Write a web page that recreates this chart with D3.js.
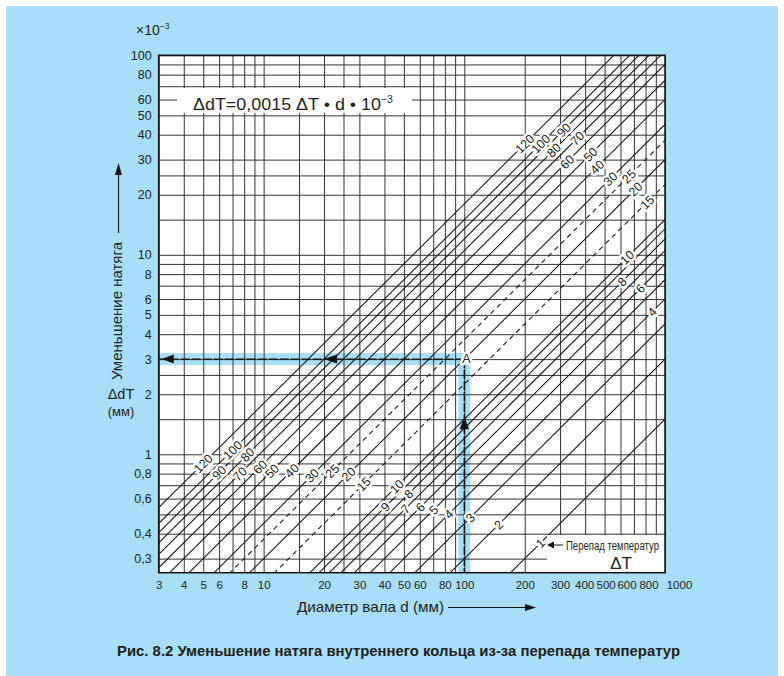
<!DOCTYPE html>
<html>
<head>
<meta charset="utf-8">
<script src="https://cdnjs.cloudflare.com/ajax/libs/d3/7.8.5/d3.min.js"></script>
<style>
    body { margin: 0; background: #fff; }
    text { font-family: "Liberation Sans", Arial, sans-serif; fill: #231f20; }
    .halo { stroke: #fff; stroke-width: 5px; stroke-linejoin: round; paint-order: stroke; }
</style>
</head>
<body>
<div id="chart"></div>
<script>
"use strict";

// grid lines of the log-log paper
const xGridValues = [3, 4, 5, 6, 7, 8, 9, 10, 15, 20, 25, 30, 40, 50, 60, 70, 80, 90,
    100, 200, 300, 400, 500, 600, 700, 800, 900, 1000];
const yGridValues = [0.3, 0.4, 0.5, 0.6, 0.7, 0.8, 0.9, 1, 1.5, 2, 2.5, 3, 4, 5, 6, 7, 8, 9,
    10, 15, 20, 25, 30, 40, 50, 60, 70, 80, 90, 100];

// tick labels
const xTickLabels = [3, 4, 5, 6, 8, 10, 20, 30, 40, 50, 60, 80, 100, 200, 300, 400, 500, 600, 800, 1000];
const yTickLabels = [0.3, 0.4, 0.6, 0.8, 1, 2, 3, 4, 5, 6, 8, 10, 20, 30, 40, 50, 60, 80, 100];

// temperature differences (one line each), dashed ones
const deltaT = [1, 2, 3, 4, 5, 6, 7, 8, 9, 10, 15, 20, 25, 30, 40, 50, 60, 70, 80, 90, 100, 120];
const dashedDeltaT = [15, 25];

// dT = 0.0015 * deltaT * d  (x10^-3 mm)
const coefficient = 0.0015;

// line labels: [deltaT, diameter where the label sits]
const lowerLabels = [[120, 5.0], [100, 7.0], [90, 6.0], [80, 8.3], [70, 7.6], [60, 9.6],
    [50, 11], [40, 13.8], [30, 17.4], [25, 22], [20, 26.5], [15, 31.5], [10, 46], [9, 40.4],
    [8, 52.8], [7, 50.8], [6, 60.4], [5, 70.3], [4, 83.6], [3, 107], [2, 148], [1, 239]];
const upperLabels = [[120, 200], [100, 240], [90, 313], [80, 279], [70, 365], [60, 325],
    [50, 425], [40, 459], [30, 534], [25, 660], [20, 712], [15, 815], [10, 647], [8, 611],
    [6, 754], [4, 862]];

// worked example: point A
const exampleD = 100;
const exampleDT = 3;
const midArrowD = 20;
const upArrowDT = 1.55;

// crowded x labels at the right end are pushed apart a little (px)
const xLabelNudge = { 400: -1, 500: 1, 600: 6, 800: 3, 1000: 14 };

const width = 784, height = 676;

const svg = d3.select("#chart").append("svg")
    .attr("width", width)
    .attr("height", height);

// scales
const x = d3.scaleLog().domain([3, 1000]).range([158.7, 665]);
const y = d3.scaleLog().domain([0.255, 100]).range([572.7, 55.3]);
const x0 = x.range()[0], x1 = x.range()[1];
const y0 = y.range()[0], y1 = y.range()[1];

const fmt = v => String(v).replace(".", ",");

// blue page background
svg.append("rect")
    .attr("x", 6).attr("y", 6)
    .attr("width", 772).attr("height", 670)
    .attr("fill", "#a8def8");

// white plot area
svg.append("rect")
    .attr("x", x0).attr("y", y1)
    .attr("width", x1 - x0).attr("height", y0 - y1)
    .attr("fill", "#fff");

// highlighted path of the example
const band = 12;
svg.append("rect")
    .attr("x", x0).attr("y", y(exampleDT) - band / 2)
    .attr("width", x(exampleD) + band / 2 - x0).attr("height", band)
    .attr("fill", "#a8def8");
svg.append("rect")
    .attr("x", x(exampleD) - band / 2).attr("y", y(exampleDT) - band / 2)
    .attr("width", band).attr("height", y0 - y(exampleDT) + band / 2)
    .attr("fill", "#a8def8");

// grid
const gridX = svg.append("g")
    .attr("transform", "translate(0," + y0 + ")")
    .call(d3.axisBottom(x).tickValues(xGridValues).tickSize(-(y0 - y1)).tickFormat(""));
gridX.select(".domain").remove();
gridX.selectAll("line").attr("stroke", "#333").attr("stroke-width", 1);

const gridY = svg.append("g")
    .attr("transform", "translate(" + x0 + ",0)")
    .call(d3.axisLeft(y).tickValues(yGridValues).tickSize(-(x1 - x0)).tickFormat(""));
gridY.select(".domain").remove();
gridY.selectAll("line").attr("stroke", "#333").attr("stroke-width", 1);

// clip for the diagonal lines
svg.append("defs").append("clipPath")
    .attr("id", "plotClip")
    .append("rect")
    .attr("x", x0).attr("y", y1)
    .attr("width", x1 - x0).attr("height", y0 - y1);

const line = d3.line()
    .x(d => x(d[0]))
    .y(d => y(d[1]));

svg.append("g")
    .attr("clip-path", "url(#plotClip)")
    .selectAll("path")
    .data(deltaT)
    .enter()
    .append("path")
    .attr("d", t => line([3, 1000].map(d => [d, coefficient * t * d])))
    .attr("fill", "none")
    .attr("stroke", "#1a1a1a")
    .attr("stroke-width", 1.1)
    .attr("stroke-dasharray", t => dashedDeltaT.includes(t) ? "5,4" : null);

// example arrows
const arrows = svg.append("g");
arrows.append("line")
    .attr("x1", x0).attr("x2", x(exampleD))
    .attr("y1", y(exampleDT)).attr("y2", y(exampleDT))
    .attr("stroke", "#111").attr("stroke-width", 1.4)
    .attr("stroke-dasharray", "9,2");
arrows.append("line")
    .attr("x1", x(exampleD)).attr("x2", x(exampleD))
    .attr("y1", y(exampleDT)).attr("y2", y0)
    .attr("stroke", "#111").attr("stroke-width", 1.4)
    .attr("stroke-dasharray", "9,2");

// triangle head, tip at (tx, ty), pointing in dir ("left", "right", "up")
function arrowHead(g, tx, ty, dir, len, half) {
    let p;
    if (dir === "left") p = [[tx, ty], [tx + len, ty - half], [tx + len, ty + half]];
    else if (dir === "right") p = [[tx, ty], [tx - len, ty - half], [tx - len, ty + half]];
    else p = [[tx, ty], [tx - half, ty + len], [tx + half, ty + len]];
    g.append("path")
        .attr("d", "M" + p.join("L") + "Z")
        .attr("fill", "#111");
}
arrowHead(arrows, x0 + 3, y(exampleDT), "left", 12, 4.5);
arrowHead(arrows, x(midArrowD), y(exampleDT), "left", 13, 4.5);
arrowHead(arrows, x(exampleD), y(upArrowDT), "up", 13, 4.5);

svg.append("text")
    .attr("class", "halo")
    .attr("x", x(exampleD) + 2).attr("y", y(exampleDT) + 4)
    .attr("text-anchor", "middle")
    .style("font-size", "12.5px")
    .text("A");

// labels on the lines
const angle = Math.atan((y(1) - y(10)) / (x(10) - x(1))) * 180 / Math.PI;
const labelGroup = svg.append("g");
labelGroup.selectAll("text")
    .data(lowerLabels.concat(upperLabels))
    .enter()
    .append("text")
    .attr("class", "halo")
    .attr("transform", d => "translate(" + x(d[1]) + "," + y(coefficient * d[0] * d[1]) + ") rotate(" + (-angle) + ")")
    .attr("text-anchor", "middle")
    .attr("dy", "0.36em")
    .style("font-size", "12.5px")
    .text(d => d[0]);

// formula box
svg.append("rect")
    .attr("x", 177).attr("y", 88)
    .attr("width", 235).attr("height", 25)
    .attr("fill", "#fff");
const formula = svg.append("text")
    .attr("x", 193).attr("y", 110)
    .attr("textLength", 200).attr("lengthAdjust", "spacingAndGlyphs")
    .style("font-size", "17px");
formula.append("tspan").text("ΔdT=0,0015 ΔT • d • 10");
formula.append("tspan").attr("dy", -7).style("font-size", "10px").text("−3");

// temperature difference legend box
svg.append("rect")
    .attr("x", 547).attr("y", 535)
    .attr("width", x1 - 547).attr("height", y0 - 535)
    .attr("fill", "#fff");
svg.append("line")
    .attr("x1", 550).attr("x2", 563)
    .attr("y1", 545).attr("y2", 545)
    .attr("stroke", "#111").attr("stroke-width", 1);
arrowHead(svg, 547, 545, "left", 7, 3.5);
svg.append("text")
    .attr("x", 566).attr("y", 549.5)
    .attr("textLength", 93).attr("lengthAdjust", "spacingAndGlyphs")
    .style("font-size", "12px")
    .text("Перепад температур");
svg.append("text")
    .attr("x", 621).attr("y", 569)
    .attr("text-anchor", "middle")
    .style("font-size", "17px")
    .text("ΔT");

// frame
svg.append("rect")
    .attr("x", x0).attr("y", y1)
    .attr("width", x1 - x0).attr("height", y0 - y1)
    .attr("fill", "none")
    .attr("stroke", "#111")
    .attr("stroke-width", 1.5);

// tick labels
const xAxis = svg.append("g")
    .attr("transform", "translate(0," + y0 + ")")
    .call(d3.axisBottom(x).tickValues(xTickLabels).tickSize(0).tickPadding(8).tickFormat(fmt));
xAxis.select(".domain").remove();
xAxis.selectAll("text").style("font-size", "11.5px").attr("fill", "#231f20")
    .style("font-family", "'Liberation Sans', Arial, sans-serif")
    .attr("dx", d => xLabelNudge[d] || 0);

const yAxis = svg.append("g")
    .attr("transform", "translate(" + x0 + ",0)")
    .call(d3.axisLeft(y).tickValues(yTickLabels).tickSize(0).tickPadding(7).tickFormat(fmt));
yAxis.select(".domain").remove();
yAxis.selectAll("text").style("font-size", "12.5px").attr("fill", "#231f20")
    .style("font-family", "'Liberation Sans', Arial, sans-serif");

// unit above the y axis
const unit = svg.append("text")
    .attr("x", 136).attr("y", 35)
    .style("font-size", "14px");
unit.append("tspan").text("×10");
unit.append("tspan").attr("dy", -6).style("font-size", "8.5px").text("−3");

// y axis title
svg.append("text")
    .attr("transform", "translate(122,311) rotate(-90)")
    .attr("text-anchor", "middle")
    .attr("textLength", 138).attr("lengthAdjust", "spacingAndGlyphs")
    .style("font-size", "14.5px")
    .text("Уменьшение натяга");
svg.append("line")
    .attr("x1", 118.5).attr("x2", 118.5)
    .attr("y1", 233).attr("y2", 172)
    .attr("stroke", "#111").attr("stroke-width", 1.2);
arrowHead(svg, 118.5, 163, "up", 12, 3.5);
svg.append("text")
    .attr("x", 121).attr("y", 399)
    .attr("text-anchor", "middle")
    .style("font-size", "14.5px")
    .text("ΔdT");
svg.append("text")
    .attr("x", 121).attr("y", 416)
    .attr("text-anchor", "middle")
    .style("font-size", "13px")
    .text("(мм)");

// x axis title
svg.append("text")
    .attr("x", 297).attr("y", 612)
    .attr("textLength", 147).attr("lengthAdjust", "spacingAndGlyphs")
    .style("font-size", "14.5px")
    .text("Диаметр вала d (мм)");
svg.append("line")
    .attr("x1", 448).attr("x2", 527)
    .attr("y1", 607.5).attr("y2", 607.5)
    .attr("stroke", "#111").attr("stroke-width", 1.2);
arrowHead(svg, 536, 607.5, "right", 11, 3.5);

// caption
svg.append("text")
    .attr("x", 117).attr("y", 656)
    .attr("textLength", 563).attr("lengthAdjust", "spacingAndGlyphs")
    .style("font-size", "15px")
    .style("font-weight", "bold")
    .text("Рис. 8.2 Уменьшение натяга внутреннего кольца из-за перепада температур");
</script>
</body>
</html>
